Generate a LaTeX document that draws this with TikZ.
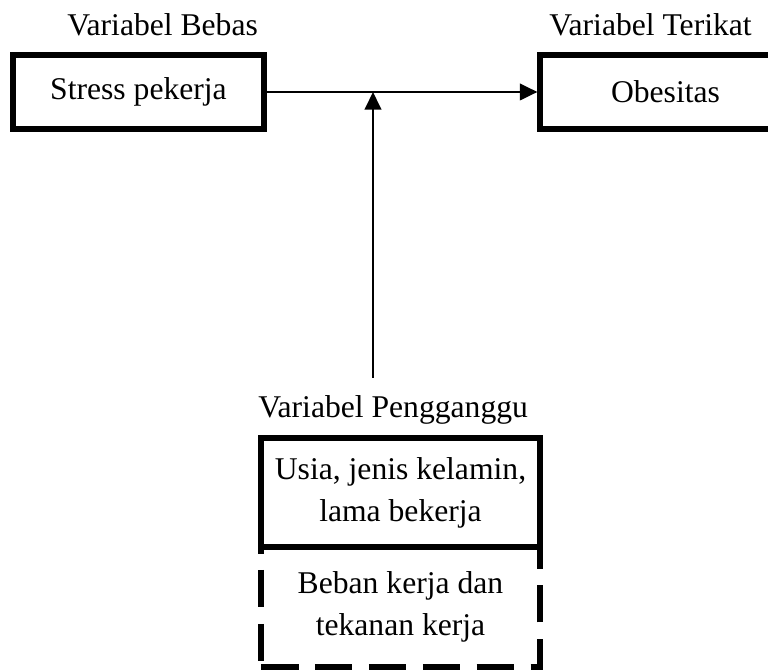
\documentclass[tikz,border=0pt]{standalone}
\usepackage{fontspec}
\setmainfont{Liberation Serif}
\usetikzlibrary{arrows.meta, positioning}

\begin{document}
\begin{tikzpicture}[x=0.015cm, y=-0.015cm,
    every node/.style={font=\fontsize{13.5}{18}\selectfont},
    varbox/.style={draw, line width=2.3pt, minimum width=107pt, minimum height=31.6pt, inner sep=0pt},
    confbox/.style={draw, line width=2.3pt, minimum width=119pt, align=center, inner sep=0pt},
    link/.style={line width=1.1pt, -{Triangle[length=7.5pt, width=7pt]}}]
        \useasboundingbox (0,0) rectangle (768,671);
        %---------------- Top: independent / dependent ----------------%
        \node[anchor=west] (bebas) at (59,25) {Variabel Bebas};
        \node[anchor=west] (terikat) at (541,25) {Variabel Terikat};
        \node[varbox] (stress) at (138.5,92) {Stress pekerja};
        \node[varbox] (obes) at (665.5,92) {Obesitas};
        \draw[link] (stress) -- (obes);

        %---------------- Bottom: confounding ----------------%
        \node[anchor=west] (pgg) at (250,410) {Variabel Pengganggu};
        \node[confbox, dash pattern=on 16pt off 7pt, minimum height=51.2pt] (beban) at (400.5,607)
            {Beban kerja dan\\tekanan kerja};
        \node[confbox, minimum height=46.5pt] (usia) at (400.5,492.5)
            {Usia, jenis kelamin,\\lama bekerja};
        \coordinate (join) at (373,92);
        \coordinate (foot) at (373,378);
        \draw[link] (foot) -- (join);
\end{tikzpicture}
\end{document}
